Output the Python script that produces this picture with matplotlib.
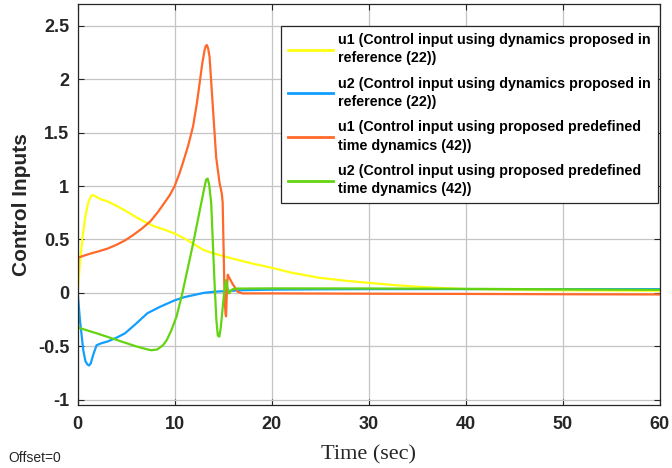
import numpy as np
import matplotlib
matplotlib.use('Agg')
import matplotlib.pyplot as plt
from matplotlib.ticker import MultipleLocator, FormatStrFormatter

# u1, dynamics from reference (22)
t_u1_ref = [0, 0.2, 0.5, 0.8, 1.1, 1.4, 1.6, 2.0, 2.4, 3, 4, 5, 6, 7, 8, 9, 10, 11, 12, 13,
            14, 15, 16, 18, 20, 22, 25, 28, 30, 33, 36, 40, 45, 50, 55, 60]
u1_ref = [0, 0.25, 0.52, 0.72, 0.85, 0.91, 0.915, 0.895, 0.875, 0.86, 0.815, 0.765, 0.71,
          0.66, 0.62, 0.59, 0.555, 0.51, 0.455, 0.40, 0.37, 0.345, 0.32, 0.275, 0.235, 0.19,
          0.14, 0.11, 0.094, 0.07, 0.052, 0.035, 0.028, 0.024, 0.022, 0.02]

# u2, dynamics from reference (22)
t_u2_ref = [0, 0.24, 0.58, 0.8, 1.0, 1.17, 1.35, 1.6, 1.95, 2.5, 3.1, 4, 4.86, 6, 7.2, 8.5,
            10, 11, 12, 13, 14, 15, 17, 20, 25, 30, 40, 50, 60]
u2_ref = [0, -0.26, -0.54, -0.64, -0.67, -0.68, -0.66, -0.58, -0.49, -0.47, -0.455, -0.42,
          -0.38, -0.29, -0.19, -0.13, -0.07, -0.04, -0.02, 0.0, 0.01, 0.015, 0.025, 0.03,
          0.033, 0.035, 0.035, 0.035, 0.035]

# u1, proposed predefined time dynamics (42)
t_u1_new = [0, 0.05, 0.7, 1.4, 2.2, 3.1, 4, 4.86, 5.7, 6.6, 7.5, 8.3, 9, 9.5, 10, 10.5,
            10.86, 11.4, 11.9, 12.3, 12.57, 12.85, 13.08, 13.2, 13.32, 13.45, 13.6, 13.94,
            14.28, 14.63, 14.86, 14.95, 15.05, 15.15, 15.25, 15.3, 15.4, 15.48, 15.7, 16.0,
            16.5, 17, 20, 30, 40, 50, 60]
u1_new = [0, 0.33, 0.35, 0.37, 0.39, 0.415, 0.45, 0.49, 0.54, 0.6, 0.67, 0.76, 0.85, 0.915,
          1.0, 1.12, 1.22, 1.38, 1.56, 1.78, 1.96, 2.15, 2.27, 2.31, 2.32, 2.29, 2.21, 1.74,
          1.27, 1.03, 0.93, 0.85, 0.4, -0.05, -0.2, -0.22, 0.05, 0.17, 0.13, 0.08, 0.01,
          -0.005, -0.005, -0.008, -0.01, -0.013, -0.015]

# u2, proposed predefined time dynamics (42)
t_u2_new = [0, 0.05, 2, 4, 6, 7.2, 7.6, 8.2, 8.8, 9.2, 9.66, 10.2, 10.8, 11.9, 12.74, 13.1,
            13.25, 13.4, 13.55, 13.77, 14.1, 14.3, 14.45, 14.6, 14.75, 14.9, 15.1, 15.3,
            15.45, 15.6, 15.9, 16.2, 20, 30, 40, 50, 60]
u2_new = [0, -0.325, -0.38, -0.44, -0.5, -0.53, -0.537, -0.53, -0.49, -0.44, -0.35, -0.22,
          0.0, 0.46, 0.84, 1.0, 1.06, 1.07, 1.02, 0.84, 0.12, -0.25, -0.4, -0.41, -0.33,
          -0.19, 0.0, 0.12, 0.05, -0.005, 0.03, 0.04, 0.042, 0.041, 0.038, 0.033, 0.028]

labels = [
    'u1 (Control input using dynamics proposed in\nreference (22))',
    'u2 (Control input using dynamics proposed in\nreference (22))',
    'u1 (Control input using proposed predefined\ntime dynamics (42))',
    'u2 (Control input using proposed predefined\ntime dynamics (42))',
]
colors = ['#ffff12', '#129eff', '#ff6929', '#64d412']

plt.rcParams['font.family'] = ['Liberation Sans', 'DejaVu Sans']

fig = plt.figure(figsize=(6.72, 4.68), dpi=100)
ax = fig.add_axes([0.1156, 0.1346, 0.8658, 0.8558])

series = [(t_u1_ref, u1_ref), (t_u2_ref, u2_ref), (t_u1_new, u1_new), (t_u2_new, u2_new)]
for (t, u), c, lab in zip(series, colors, labels):
    ax.plot(t, u, color=c, lw=1.6, label=lab)

ax.set_xlim(0, 60)
ax.set_ylim(-1.05, 2.7)
ax.xaxis.set_major_locator(MultipleLocator(10))
ax.yaxis.set_major_locator(MultipleLocator(0.5))
ax.yaxis.set_major_formatter(FormatStrFormatter('%g'))
ax.grid(True, color='#c4c4c4', lw=0.9)
ax.set_axisbelow(True)

for sp in ax.spines.values():
    sp.set_color('#262626')
    sp.set_linewidth(0.9)

ax.tick_params(direction='in', length=4, width=0.8, color='#262626',
               top=True, right=True, labelsize=13)
ax.tick_params(axis='x', pad=8)
ax.tick_params(axis='y', pad=6)
for lbl in ax.get_xticklabels() + ax.get_yticklabels():
    lbl.set_fontweight('bold')
    lbl.set_color('#262626')

ax.set_ylabel('Control Inputs', fontsize=15, fontweight='bold', color='#262626', labelpad=5)
ax.set_xlabel('Time (sec)', fontsize=16, family=['Liberation Serif', 'DejaVu Serif'],
              color='#262626', labelpad=9)

leg = ax.legend(loc='upper left', bbox_to_anchor=(0.349, 0.946), borderaxespad=0,
                fancybox=False, framealpha=1, edgecolor='#262626',
                prop={'weight': 'bold', 'size': 10.25}, handlelength=3.2,
                handletextpad=0.3, labelspacing=0.8, borderpad=0.5)
leg.get_frame().set_linewidth(0.9)
for txt in leg.get_texts():
    txt.set_linespacing(1.38)
for h in leg.get_lines():
    h.set_linewidth(2.0)

fig.text(0.012, 0.012, 'Offset=0', fontsize=10, color='#262626')

fig.savefig('out.png', dpi=100)
